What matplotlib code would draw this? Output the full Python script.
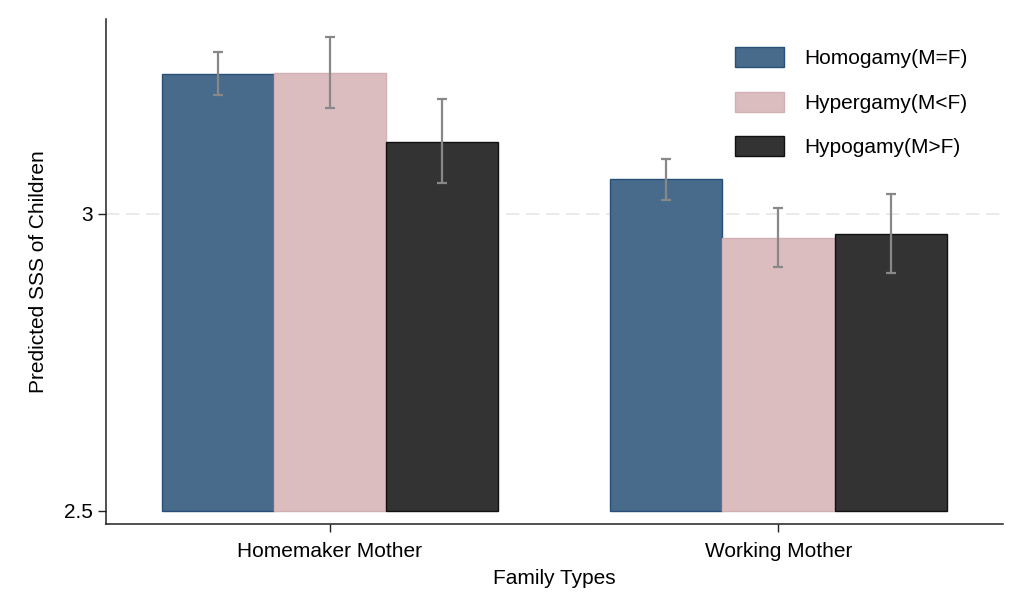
import numpy as np
import matplotlib.pyplot as plt

plt.rcParams['font.family'] = ['Liberation Sans', 'DejaVu Sans']

# donnees
categories = ['Homemaker Mother', 'Working Mother']
series = ['Homogamy(M=F)', 'Hypergamy(M<F)', 'Hypogamy(M>F)']
means = [
    [3.236, 3.058],   # Homogamy
    [3.237, 2.960],   # Hypergamy
    [3.121, 2.966],   # Hypogamy
]
ci_low = [
    [3.200, 3.024],
    [3.178, 2.911],
    [3.052, 2.901],
]
ci_high = [
    [3.273, 3.093],
    [3.297, 3.010],
    [3.193, 3.034],
]
yticks = [2.5, 3]
base = 2.5

colors = ['#486b8c', '#dbbdc0', '#333333']
edges = ['#274f78', '#d2b0b4', '#111111']

fig = plt.figure(figsize=(10.25, 6.15), dpi=100)
ax = fig.add_axes([0.1031, 0.1485, 0.8752, 0.8205])

x = np.arange(len(categories))
w = 0.25
for i, name in enumerate(series):
    pos = x + (i - 1) * w
    m = np.array(means[i])
    ax.bar(pos, m - base, bottom=base, width=w, color=colors[i],
           edgecolor=edges[i], linewidth=1.0, label=name, zorder=2)
    lo = m - np.array(ci_low[i])
    hi = np.array(ci_high[i]) - m
    ax.errorbar(pos, m, yerr=[lo, hi], fmt='none', ecolor='#888888',
                elinewidth=1.6, capsize=3.5, capthick=1.6, zorder=3)

# ligne pointillee a 3
ax.axhline(3, color='#e6e6e6', linestyle=(0, (8, 4)), linewidth=1.2, zorder=1)

ax.set_xlim(-0.5, 1.5)
ax.set_ylim(2.478, 3.328)
ax.set_yticks(yticks)
ax.set_yticklabels(['2.5', '3'])
ax.set_xticks(x)
ax.set_xticklabels(categories)

for s in ['top', 'right']:
    ax.spines[s].set_visible(False)
for s in ['left', 'bottom']:
    ax.spines[s].set_linewidth(1.1)
    ax.spines[s].set_color('#222222')
ax.tick_params(axis='both', labelsize=15, length=6, width=1.0, colors='#222222')
ax.tick_params(axis='both', labelcolor='black')
ax.tick_params(axis='y', pad=3.5)
ax.tick_params(axis='x', pad=7)

ax.set_ylabel('Predicted SSS of Children', fontsize=15, labelpad=11)
ax.set_xlabel('Family Types', fontsize=15, labelpad=6)

ax.legend(loc='upper left', bbox_to_anchor=(0.7168, 0.923), bbox_transform=fig.transFigure,
          frameon=False, fontsize=15, handlelength=2.36, handleheight=1.1,
          handletextpad=1.0, labelspacing=1.12, borderpad=0, borderaxespad=0)

fig.savefig('out.png', dpi=100)
